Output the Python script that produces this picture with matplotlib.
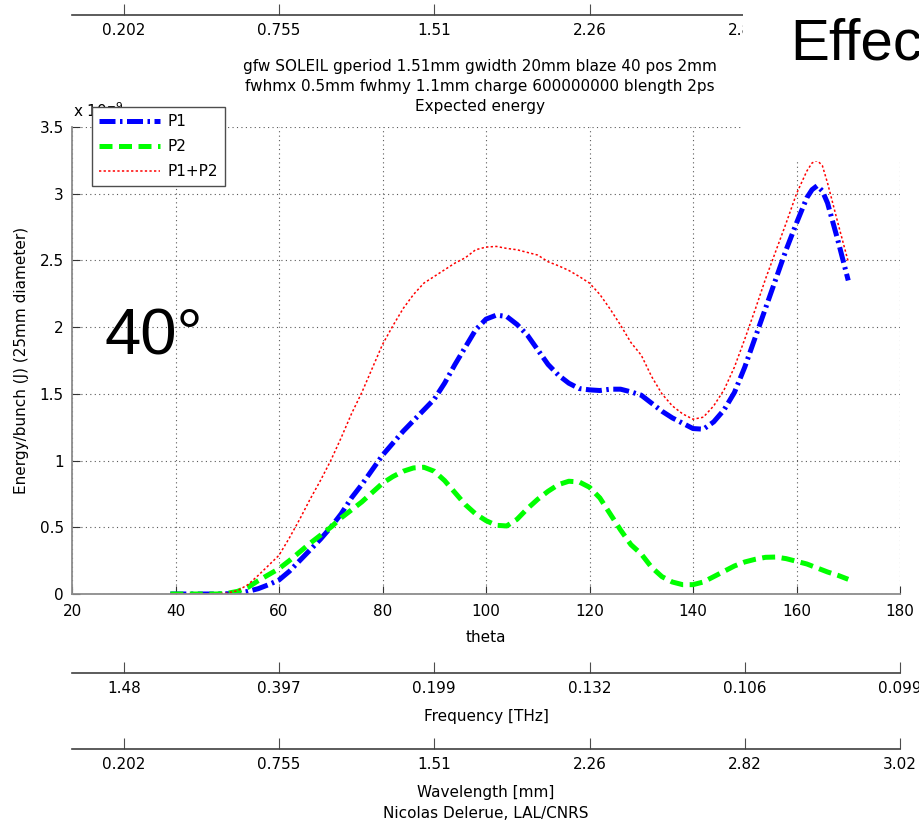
import numpy as np
from matplotlib import pyplot as plt

# theta [deg] and energy per bunch [x 1e-9 J]
theta = [39, 42, 45, 48, 50, 52, 54, 56, 58, 60, 62, 64, 66, 68, 70, 72, 74, 76, 78, 80,
         82, 84, 86, 88, 90, 92, 94, 96, 98, 100, 102, 104, 106, 108, 110, 112, 114, 116, 118, 120,
         122, 124, 126, 128, 130, 132, 134, 136, 138, 140, 142, 144, 146, 148, 150, 152, 154, 156, 158, 160,
         162, 163, 164, 165, 166, 168, 170]
p1 = [0, 0, 0, 0, 0.002, 0.005, 0.02, 0.04, 0.07, 0.105, 0.17, 0.25, 0.33, 0.41, 0.50, 0.60, 0.72, 0.82, 0.93, 1.04,
      1.13, 1.22, 1.30, 1.38, 1.46, 1.58, 1.72, 1.85, 1.98, 2.06, 2.09, 2.08, 2.02, 1.94, 1.83, 1.72, 1.64, 1.58, 1.54, 1.53,
      1.525, 1.535, 1.535, 1.515, 1.49, 1.43, 1.37, 1.32, 1.28, 1.24, 1.235, 1.29, 1.38, 1.51, 1.70, 1.92, 2.14, 2.36, 2.58, 2.78,
      2.97, 3.03, 3.06, 3.02, 2.93, 2.65, 2.35]
p2 = [0, 0, 0, 0, 0.005, 0.02, 0.05, 0.10, 0.145, 0.19, 0.25, 0.315, 0.38, 0.44, 0.50, 0.57, 0.63, 0.69, 0.76, 0.83,
      0.88, 0.92, 0.945, 0.95, 0.92, 0.85, 0.76, 0.67, 0.60, 0.55, 0.515, 0.51, 0.56, 0.64, 0.71, 0.77, 0.82, 0.845, 0.84, 0.80,
      0.72, 0.60, 0.48, 0.37, 0.30, 0.20, 0.13, 0.09, 0.07, 0.07, 0.09, 0.13, 0.17, 0.21, 0.24, 0.26, 0.275, 0.277, 0.265, 0.245,
      0.225, 0.21, 0.195, 0.18, 0.165, 0.14, 0.11]
p12 = [0, 0, 0, 0, 0.007, 0.025, 0.07, 0.14, 0.215, 0.29, 0.42, 0.56, 0.71, 0.85, 1.00, 1.17, 1.35, 1.51, 1.69, 1.87,
       2.01, 2.14, 2.245, 2.33, 2.38, 2.43, 2.48, 2.52, 2.58, 2.60, 2.605, 2.59, 2.58, 2.56, 2.54, 2.49, 2.46, 2.425, 2.38, 2.33,
       2.245, 2.135, 2.015, 1.885, 1.79, 1.63, 1.50, 1.41, 1.35, 1.31, 1.325, 1.41, 1.53, 1.70, 1.91, 2.13, 2.36, 2.57, 2.78, 3.00,
       3.17, 3.23, 3.25, 3.21, 3.08, 2.78, 2.49]

sec_ticks = [30, 60, 90, 120, 150, 180]
freq_labels = ["1.48", "0.397", "0.199", "0.132", "0.106", "0.099"]
wl_labels = ["0.202", "0.755", "1.51", "2.26", "2.82", "3.02"]

plt.rcParams["font.family"] = "DejaVu Sans"
plt.rcParams["font.size"] = 11

W, H = 919, 826
fig = plt.figure(figsize=(W / 100, H / 100), dpi=100)


def fx(px):
    return px / W


def fy(py):
    return 1 - py / H


L, R, B, T = fx(72), fx(900), fy(594), fy(127)
ax = fig.add_axes([L, B, R - L, T - B])

ax.plot(theta, p1, color="blue", lw=3.6, dashes=(3.2, 0.9, 0.5, 0.9), label="P1")
ax.plot(theta, p2, color="#00ff00", lw=3.6, dashes=(2.6, 1.3), label="P2")
ax.plot(theta, p12, color="red", lw=1.1, dashes=(1.5, 1.5), label="P1+P2")

ax.set_xlim(20, 180)
ax.set_ylim(0, 3.5)
ax.set_xticks(np.arange(20, 181, 20))
ax.set_yticks(np.arange(0, 3.51, 0.5))
ax.set_yticklabels(["0", "0.5", "1", "1.5", "2", "2.5", "3", "3.5"])
ax.grid(True, color="0.35", linestyle=(0, (1, 3)), lw=0.8)
ax.tick_params(direction="in", length=6, color="0.2")
ax.tick_params(axis="x", pad=7)
ax.tick_params(axis="y", pad=6)
for s in ["top", "right"]:
    ax.spines[s].set_visible(False)
for s in ["left", "bottom"]:
    ax.spines[s].set_color("0.55")
    ax.spines[s].set_linewidth(1.3)

ax.text(fx(73), fy(117), r"x 10$^{-9}$", transform=fig.transFigure, va="baseline", ha="left",
        clip_on=False, zorder=4)

leg = ax.legend(loc="upper left", bbox_to_anchor=(fx(92), fy(107)), bbox_transform=fig.transFigure,
                fancybox=False, framealpha=1, edgecolor="0.3", borderpad=0.45, handlelength=4.0,
                handletextpad=0.5, labelspacing=0.66, borderaxespad=0)
leg.get_frame().set_linewidth(1.0)
leg.set_zorder(5)


def sec_axis(py, labels):
    a = fig.add_axes([L, fy(py), R - L, 0.0001])
    a.set_xlim(20, 180)
    a.set_xticks(sec_ticks[:len(labels)])
    a.set_xticklabels(labels)
    a.set_yticks([])
    for s in ["top", "left", "right"]:
        a.spines[s].set_visible(False)
    a.spines["bottom"].set_color("0.25")
    a.spines["bottom"].set_linewidth(1.2)
    a.tick_params(axis="x", direction="in", length=8, pad=6, color="0.3")
    a.patch.set_visible(False)
    return a


# top wavelength axis, its right end sits under the heading block
sec_axis(15, wl_labels[:5])
sec_axis(673, freq_labels)
sec_axis(749, wl_labels)

# white block at top right carrying the large heading
cover = fig.add_axes([fx(743), fy(161), 1 - fx(743), fy(0) - fy(161)])
cover.set_xticks([])
cover.set_yticks([])
for s in cover.spines.values():
    s.set_visible(False)
cover.set_facecolor("white")
fig.text(fx(790), fy(60), "Effect", fontsize=42, family="Liberation Sans", va="baseline", ha="left")

fig.text(fx(480), fy(67), "gfw SOLEIL gperiod 1.51mm gwidth 20mm blaze 40 pos 2mm", ha="center", va="center")
fig.text(fx(480), fy(86), "fwhmx 0.5mm fwhmy 1.1mm charge 600000000 blength 2ps", ha="center", va="center")
fig.text(fx(480), fy(106), "Expected energy", ha="center", va="center")

fig.text(fx(105), fy(355), "40°", fontsize=47, family="Liberation Sans", va="baseline", ha="left")

fig.text(fx(486), fy(638), "theta", ha="center", va="center")
fig.text(fx(22), fy(360), "Energy/bunch (J) (25mm diameter)", rotation=90, ha="center", va="center")
fig.text(fx(486), fy(716), "Frequency [THz]", ha="center", va="center")
fig.text(fx(486), fy(793), "Wavelength [mm]", ha="center", va="center")
fig.text(fx(486), fy(813), "Nicolas Delerue, LAL/CNRS", ha="center", va="center")

fig.savefig("out.png", dpi=100)
